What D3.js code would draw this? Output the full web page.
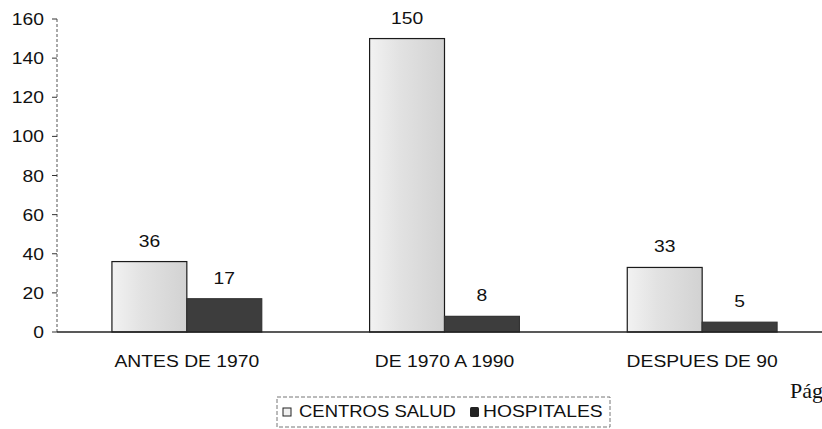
<!DOCTYPE html>
<html>
<head>
<meta charset="utf-8">
<script src="https://cdn.jsdelivr.net/npm/d3@7"></script>
<style>
  body { margin: 0; background: #fff; }
  svg { display: block; }
</style>
</head>
<body>
<script>
// chart values
var categories = ['ANTES DE 1970', 'DE 1970 A 1990', 'DESPUES DE 90'];
var seriesNames = ['CENTROS SALUD', 'HOSPITALES'];
var centrosSalud = [36, 150, 33];
var hospitales = [17, 8, 5];
var yTicks = [0, 20, 40, 60, 80, 100, 120, 140, 160];

var width = 822, height = 429;
var font = 'Liberation Sans, Arial, sans-serif';
var stretch = 1.17;

var svg = d3.select('body').append('svg')
    .attr('width', width)
    .attr('height', height);

var defs = svg.append('defs');
var grad = defs.append('linearGradient').attr('id', 'lightFill')
    .attr('x1', 0).attr('x2', 1).attr('y1', 0).attr('y2', 0);
grad.append('stop').attr('offset', '0').attr('stop-color', '#f2f2f2');
grad.append('stop').attr('offset', '0.4').attr('stop-color', '#e2e2e2');
grad.append('stop').attr('offset', '1').attr('stop-color', '#d2d2d2');

var x = d3.scaleBand().domain(categories).range([58, 831]);
var xs = d3.scaleBand().domain(seriesNames).range([0, x.bandwidth()])
    .paddingInner(0).paddingOuter(0.72);
var y = d3.scaleLinear().domain([0, 160]).range([332, 19]);

var fills = { 'CENTROS SALUD': 'url(#lightFill)', 'HOSPITALES': '#3d3d3d' };

// stretched text helper (the scan is wider than it is tall)
function label(g, tx, ty, txt, anchor, sx) {
    return g.append('text')
      .attr('transform', 'translate(' + tx + ',' + ty + ') scale(' + (sx || stretch) + ',1)')
      .attr('text-anchor', anchor)
      .attr('font-family', font)
      .attr('font-size', 16.5)
      .attr('fill', '#111')
      .text(txt);
}

// y axis
var axisG = svg.append('g');
axisG.append('line')
    .attr('x1', 57).attr('x2', 57)
    .attr('y1', y(160)).attr('y2', y(0))
    .attr('stroke', '#555').attr('stroke-width', 1)
    .attr('stroke-dasharray', '3,2');
yTicks.forEach(function(t) {
    axisG.append('line')
      .attr('x1', 52).attr('x2', 57)
      .attr('y1', y(t)).attr('y2', y(t))
      .attr('stroke', '#333');
    label(axisG, 44, y(t) + 6, t, 'end');
});

// bars
var data = categories.map(function(c, i) {
    return [
        { cat: c, name: seriesNames[0], value: centrosSalud[i] },
        { cat: c, name: seriesNames[1], value: hospitales[i] }
    ];
});

var groups = svg.selectAll('g.grp').data(data).enter()
  .append('g').attr('class', 'grp')
    .attr('transform', function(d) { return 'translate(' + x(d[0].cat) + ',0)'; });

groups.selectAll('rect').data(function(d) { return d; }).enter()
  .append('rect')
    .attr('x', function(d) { return xs(d.name); })
    .attr('y', function(d) { return y(d.value); })
    .attr('width', xs.bandwidth())
    .attr('height', function(d) { return y(0) - y(d.value); })
    .attr('fill', function(d) { return fills[d.name]; })
    .attr('stroke', function(d) { return d.name === 'HOSPITALES' ? '#333' : '#1a1a1a'; })
    .attr('stroke-width', 1.2);

groups.each(function(d) {
    var g = d3.select(this);
    d.forEach(function(b) {
        label(g, xs(b.name) + xs.bandwidth() / 2, y(b.value) - 15, b.value, 'middle');
    });
});

// baseline
svg.append('line')
    .attr('x1', 57).attr('x2', width)
    .attr('y1', y(0)).attr('y2', y(0))
    .attr('stroke', '#222').attr('stroke-width', 1.3);

// category labels
categories.forEach(function(c) {
    label(svg, x(c) + x.bandwidth() / 2, 367, c, 'middle');
});

// legend
var leg = svg.append('g');
leg.append('rect')
    .attr('x', 277).attr('y', 397).attr('width', 333).attr('height', 30)
    .attr('fill', 'none').attr('stroke', '#777').attr('stroke-dasharray', '4,2');
leg.append('rect')
    .attr('x', 283).attr('y', 408).attr('width', 8).attr('height', 8)
    .attr('fill', '#f0f0f0').attr('stroke', '#222');
label(leg, 299, 417, seriesNames[0], 'start', 1.12);
leg.append('rect')
    .attr('x', 470).attr('y', 407).attr('width', 9).attr('height', 10)
    .attr('rx', 1.5)
    .attr('fill', '#222');
label(leg, 483, 417, seriesNames[1], 'start');

// page footer fragment from the scan
svg.append('text')
    .attr('x', 790).attr('y', 398)
    .attr('font-family', 'Liberation Serif, Times New Roman, serif')
    .attr('font-size', 22)
    .attr('fill', '#111')
    .text('Pág');
</script>
</body>
</html>
